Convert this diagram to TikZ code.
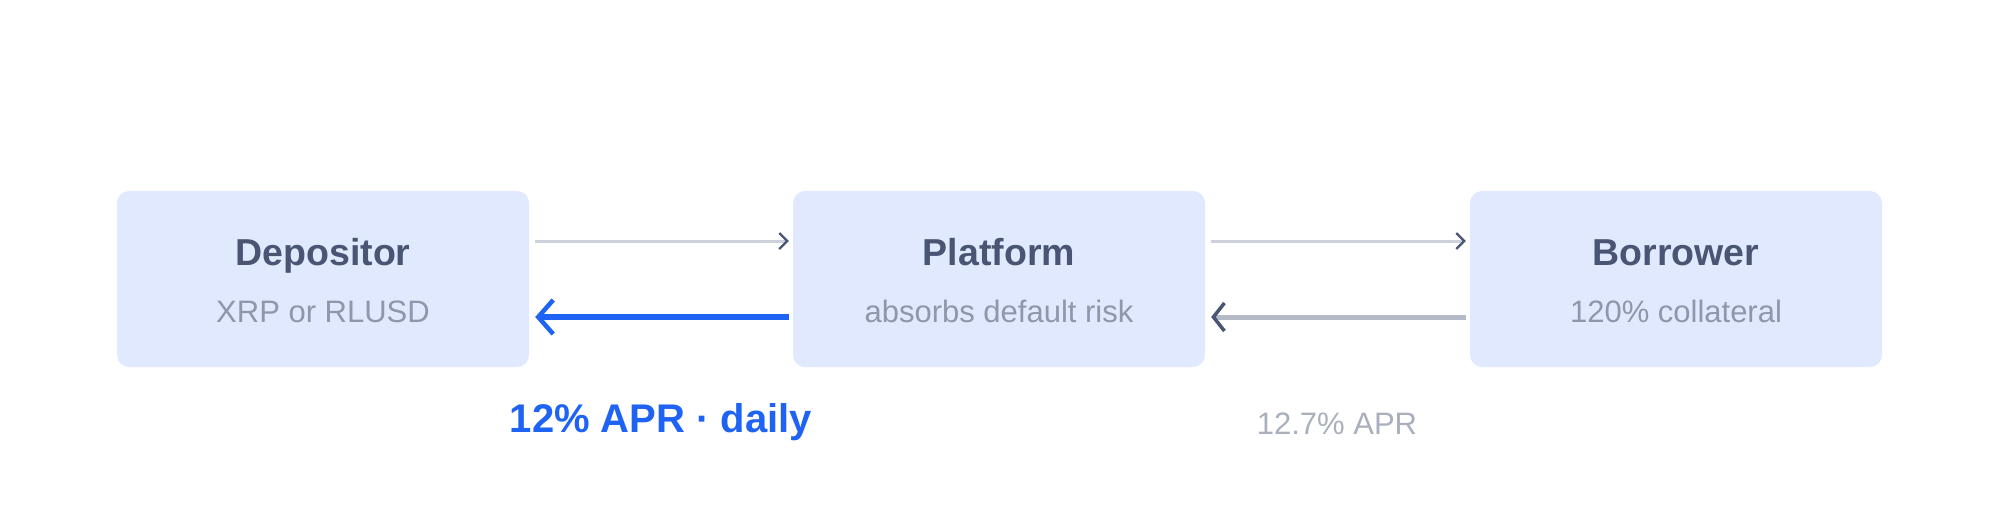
\documentclass[tikz,border=0pt]{standalone}
\usepackage{fontspec}
\setmainfont{Liberation Sans}
\usetikzlibrary{arrows.meta}
\definecolor{boxc}{HTML}{E0E9FD}
\definecolor{titc}{HTML}{4A5573}
\definecolor{subc}{HTML}{8E97AD}
\definecolor{bluec}{HTML}{1F63F5}
\definecolor{greyc}{HTML}{B4BAC6}
\definecolor{thinc}{HTML}{CDD1DA}
\definecolor{labc}{HTML}{A9AFBD}
\begin{document}
\begin{tikzpicture}[x=1pt,y=-1pt,
  box/.style={fill=boxc,rounded corners=12pt,minimum width=412pt,minimum height=176pt,inner sep=0},
  thin/.style={draw=thinc,line width=3pt,shorten <=6pt,shorten >=4pt,-{Straight Barb[length=8pt,width=16pt,color=titc,line width=2.2pt]}},
  back/.style={line width=5pt,shorten <=4pt,shorten >=6pt,-{Straight Barb[length=15pt,width=34pt,line width=4.5pt]}}]
\useasboundingbox (0,0) rectangle (1999,515);
\node[box] (d) at (323,279) {};
\node[box] (p) at (999,279) {};
\node[box] (b) at (1676,279) {};
\foreach \n/\t/\s in {d/Depositor/XRP or RLUSD, p/Platform/absorbs default risk, b/Borrower/120\% collateral}{
  \node[anchor=base,text=titc,font=\fontsize{37.5}{42}\selectfont\bfseries] (\n t) at ([yshift=14pt]\n.center) {\t};
  \node[anchor=base,text=subc,font=\fontsize{31}{36}\selectfont] (\n s) at ([yshift=-43pt]\n.center) {\s};
}
\draw[thin] ([yshift=38pt]d.east) -- ([yshift=38pt]p.west);
\draw[thin] ([yshift=38pt]p.east) -- ([yshift=38pt]b.west);
\draw[back,draw=bluec,line width=6pt] ([yshift=-38pt]p.west) -- ([yshift=-38pt]d.east);
\draw[back,draw=greyc,-{Straight Barb[length=11pt,width=28pt,line width=3.5pt,color=titc]}] ([yshift=-38pt]b.west) -- ([yshift=-38pt]p.east);
\node[text=bluec,font=\fontsize{40}{44}\selectfont\bfseries] (l1) at (661,422) {12\% APR · daily};
\node[text=labc,font=\fontsize{31}{36}\selectfont] (l2) at (1337,424) {12.7\% APR};
\end{tikzpicture}
\end{document}
